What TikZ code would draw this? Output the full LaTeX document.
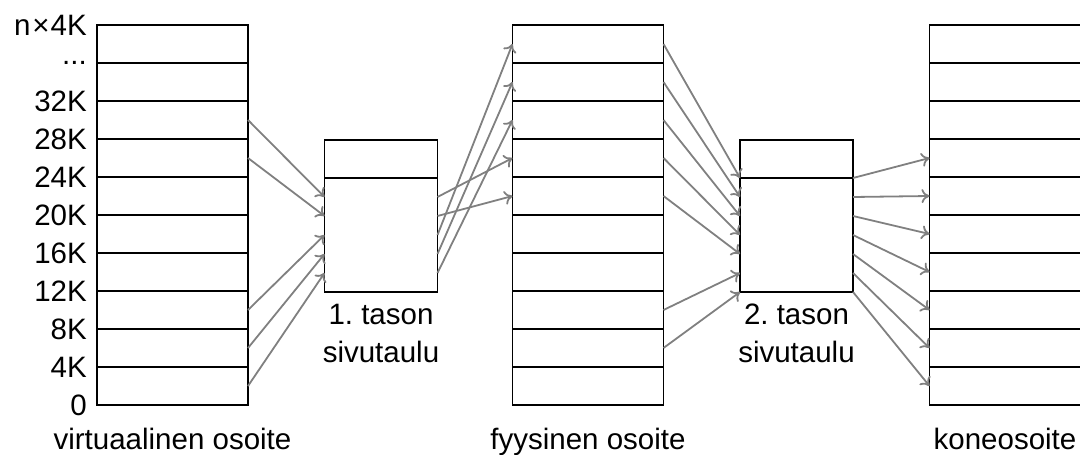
\documentclass[tikz,border=0pt]{standalone}
\usepackage{fontspec}
\setmainfont{Liberation Sans}
\usetikzlibrary{arrows.meta}
\frenchspacing
\begin{document}
\begin{tikzpicture}[x=1pt,y=-1pt,
  col/.style={draw, line width=1.3pt, minimum width=151pt, minimum height=380pt, inner sep=0pt, outer sep=0pt, anchor=north west},
  tbl/.style={draw, line width=1.3pt, minimum width=113pt, minimum height=152pt, inner sep=0pt, outer sep=0pt, anchor=north west},
  sep/.style={line width=1.3pt},
  map/.style={draw=gray, line width=1.8pt, -{To[length=8pt,width=14pt]}},
  lab/.style={font=\fontsize{29.5}{38}\selectfont, inner sep=0pt},
]
\useasboundingbox (0,0) rectangle (1080,455);
% virtual address column
\node[col] (L) at (97,25) {};
\foreach \i in {1,...,9}
  \draw[sep] ([yshift={-38*\i}]L.north west) -- ([yshift={-38*\i}]L.north east);
\node[lab, anchor=east] (l10) at ([xshift=-10pt]L.north west) {n\kern2pt×\kern1pt4K};
\node[lab, anchor=east] (l9) at ([xshift=-10pt,yshift=-38pt]L.north west) {...};
\node[lab, anchor=east] (l8) at ([xshift=-10pt,yshift=-76pt]L.north west) {32K};
\node[lab, anchor=east] (l7) at ([xshift=-10pt,yshift=-114pt]L.north west) {28K};
\node[lab, anchor=east] (l6) at ([xshift=-10pt,yshift=-152pt]L.north west) {24K};
\node[lab, anchor=east] (l5) at ([xshift=-10pt,yshift=-190pt]L.north west) {20K};
\node[lab, anchor=east] (l4) at ([xshift=-10pt,yshift=-228pt]L.north west) {16K};
\node[lab, anchor=east] (l3) at ([xshift=-10pt,yshift=-266pt]L.north west) {12K};
\node[lab, anchor=east] (l2) at ([xshift=-10pt,yshift=-304pt]L.north west) {8K};
\node[lab, anchor=east] (l1) at ([xshift=-10pt,yshift=-342pt]L.north west) {4K};
\node[lab, anchor=east] (l0) at ([xshift=-10pt,yshift=-380pt]L.north west) {0};
\node[lab, anchor=base] (Llab) at ([yshift=-44pt]L.south) {virtuaalinen osoite};
% first level page table
\node[tbl] (T1) at (324.5,140) {};
\draw[sep] ([yshift=-38pt]T1.north west) -- ([yshift=-38pt]T1.north east);
\node[lab, anchor=base, align=center] (T1lab) at ([yshift=-70pt]T1.south) {1. tason\\sivutaulu};
% physical address column
\node[col] (M) at (512.5,25) {};
\foreach \i in {1,...,9}
  \draw[sep] ([yshift={-38*\i}]M.north west) -- ([yshift={-38*\i}]M.north east);
\node[lab, anchor=base] (Mlab) at ([yshift=-44pt]M.south) {fyysinen osoite};
% second level page table
\node[tbl] (T2) at (740,140) {};
\draw[sep] ([yshift=-38pt]T2.north west) -- ([yshift=-38pt]T2.north east);
\node[lab, anchor=base, align=center] (T2lab) at ([yshift=-70pt]T2.south) {2. tason\\sivutaulu};
% machine address column (cut by the right edge)
\coordinate (R) at (929.5,25);
\draw[sep] ([xshift=152pt]R) -- (R) -- ([yshift=-380pt]R) -- ([xshift=152pt,yshift=-380pt]R);
\foreach \i in {1,...,9}
  \draw[sep] ([yshift={-38*\i}]R) -- ([xshift=152pt,yshift={-38*\i}]R);
\node[lab, anchor=base] (Rlab) at ([xshift=75.5pt,yshift=-424pt]R) {koneosoite};
% mappings
\foreach \r/\k in {2/1,3/2,7/3,8/4,9/5}
  \draw[map] ([yshift={-19-38*\r}]L.north east) -- ([yshift={-38-19*\k}]T1.north west);
\foreach \k/\r in {1/3,2/4,3/0,4/1,5/2}
  \draw[map] ([yshift={-38-19*\k}]T1.north east) -- ([yshift={-19-38*\r}]M.north west);
\foreach \r/\k in {0/0,1/1,2/2,3/3,4/4,7/5,8/6}
  \draw[map] ([yshift={-19-38*\r}]M.north east) -- ([yshift={-38-19*\k}]T2.north west);
\foreach \k/\r in {0/3,1/4,2/5,3/6,4/7,5/8,6/9}
  \draw[map] ([yshift={-38-19*\k}]T2.north east) -- ([yshift={-19-38*\r}]R);
\end{tikzpicture}
\end{document}
